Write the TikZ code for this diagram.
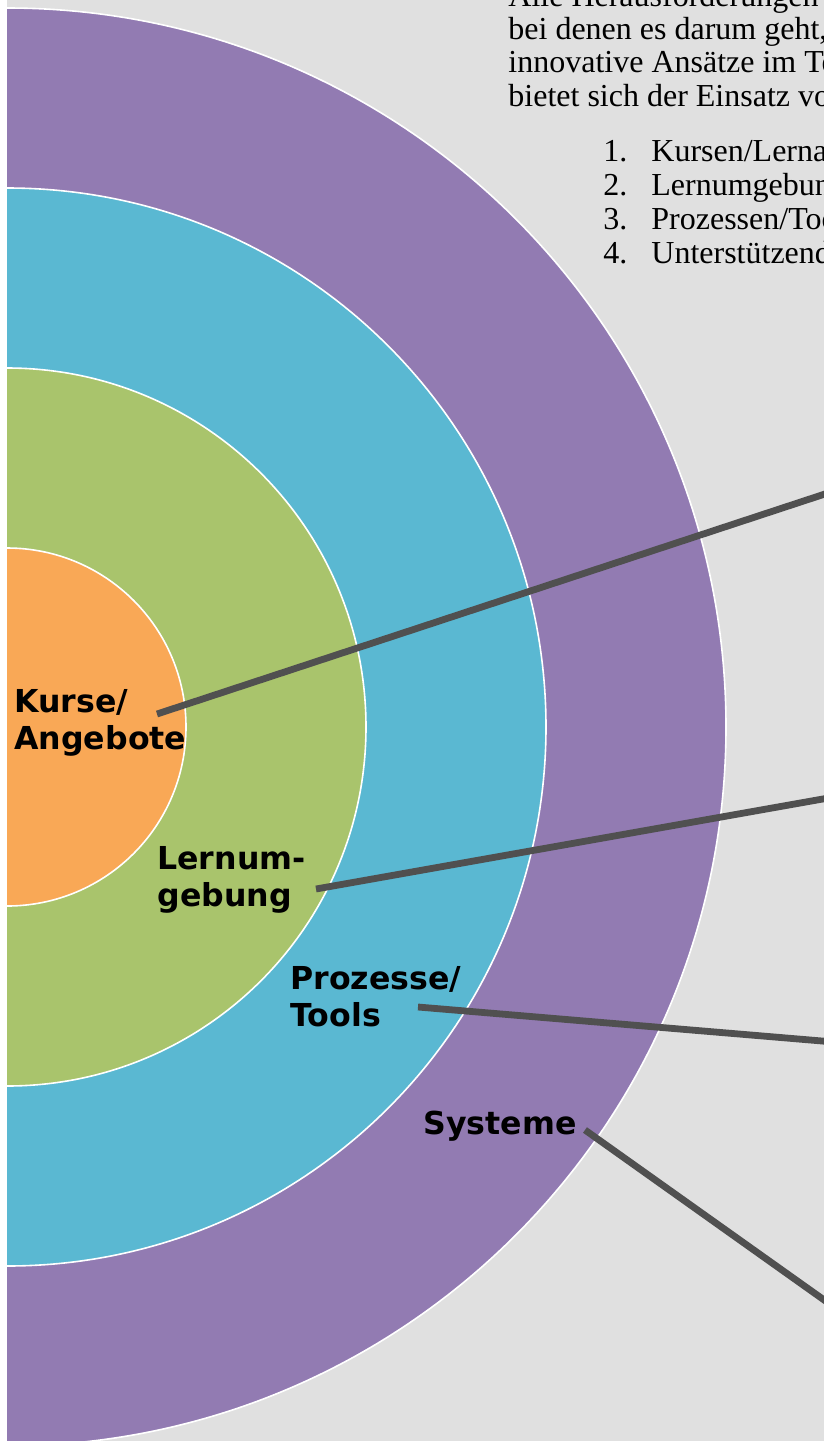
\documentclass[tikz,border=0pt]{standalone}
\usepackage{fontspec}
\setmainfont{Liberation Serif}
\newfontfamily\labelfont{DejaVu Sans}
\usetikzlibrary{positioning}
\definecolor{rgpurple}{HTML}{927BB2}
\definecolor{rgblue}{HTML}{5AB8D2}
\definecolor{rggreen}{HTML}{A9C46C}
\definecolor{rgorange}{HTML}{F9A856}
\definecolor{rgback}{HTML}{E0E0E0}
\definecolor{rgline}{HTML}{505050}

\begin{document}
\begin{tikzpicture}[x=0.5pt, y=-0.5pt,
    ring/.style={draw=white, line width=0.8pt},
    ringlabel/.style={font=\labelfont\bfseries\fontsize{15.8}{18.5}\selectfont, align=left, anchor=north west, inner sep=0pt},
    pointer/.style={draw=rgline, line width=3.4pt},
    bodytext/.style={font=\fontsize{16}{16.65}\selectfont, align=left, anchor=base west, inner sep=0pt}]
  \useasboundingbox (0,0) rectangle (824,1441);
  \clip (0,0) rectangle (824,1441);
  \fill[white] (0,0) rectangle (824,1441);
  \fill[rgback] (7,0) rectangle (824,1441);
  \begin{scope}
    \clip (7,0) rectangle (824,1441);
    \foreach \r/\c in {719/rgpurple,539/rgblue,359/rggreen,179/rgorange}
      \filldraw[ring, fill=\c] (7,727) circle[radius=\r];
  \end{scope}

  \node[bodytext] (intro) at (508,106) {Alle Herausforderungen\\bei denen es darum geht,\\innovative Ansätze im Te\\bietet sich der Einsatz vo};
  \node[bodytext, font=\fontsize{16}{17}\selectfont] (items) at (603,263) {\makebox[24pt][l]{1.}Kursen/Lerna\\\makebox[24pt][l]{2.}Lernumgebun\\\makebox[24pt][l]{3.}Prozessen/Too\\\makebox[24pt][l]{4.}Unterstützend};

  \node[ringlabel] (kurse) at (14,689) {Kurse/\\Angebote};
  \node[ringlabel] (lernum) at (157,846) {Lernum-\\gebung};
  \node[ringlabel] (prozesse) at (290,966) {Prozesse/\\Tools};
  \node[ringlabel] (systeme) at (423,1111) {Systeme};

  \coordinate (kurse-tip) at (157,714);
  \coordinate (lernum-tip) at (316,889);
  \coordinate (prozesse-tip) at (418,1007);
  \coordinate (systeme-tip) at (585,1130);
  \coordinate (kurse-end) at (834,491);
  \coordinate (lernum-end) at (834,797);
  \coordinate (prozesse-end) at (834,1042);
  \coordinate (systeme-end) at (834,1307);
  \draw[pointer] (kurse-tip) -- (kurse-end);
  \draw[pointer] (lernum-tip) -- (lernum-end);
  \draw[pointer] (prozesse-tip) -- (prozesse-end);
  \draw[pointer] (systeme-tip) -- (systeme-end);
\end{tikzpicture}
\end{document}
